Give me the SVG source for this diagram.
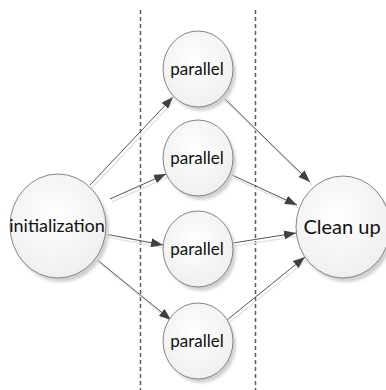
<svg xmlns="http://www.w3.org/2000/svg" width="386" height="390" viewBox="0 0 386 390">
  <defs>
    <radialGradient id="bubble" cx="45%" cy="40%" r="65%">
      <stop offset="0" stop-color="#ffffff"/>
      <stop offset="1" stop-color="#eeeeee"/>
    </radialGradient>
    <filter id="shade" x="-20%" y="-20%" width="150%" height="150%">
      <feGaussianBlur stdDeviation="1.8"/>
    </filter>
    <marker id="head" viewBox="0 0 12 9" refX="12" refY="4.5" markerWidth="12" markerHeight="9" markerUnits="userSpaceOnUse" orient="auto">
      <path d="M0,0 L12,4.5 L0,9 Z" fill="#404040"/>
    </marker>
  </defs>
  <style>
    .sep { stroke: #5a5a5a; stroke-width: 1.5; stroke-dasharray: 4 3; fill: none; }
    .shadow { fill: #d0d0d0; filter: url(#shade); }
    .node { fill: url(#bubble); stroke: #858585; stroke-width: 1; }
    .label { font-family: "Lato", "Open Sans", "Liberation Sans", sans-serif; fill: #111; text-anchor: middle; }
    .edge { stroke: #555; stroke-width: 1; fill: none; marker-end: url(#head); }
    .edge-shadow { stroke: #e4e4e4; stroke-width: 1.5; fill: none; }
  </style>

  <rect width="386" height="390" fill="#ffffff"/>

  <!-- lane separators -->
  <g id="lanes">
    <line class="sep" x1="140.5" y1="10" x2="140.5" y2="390"/>
    <line class="sep" x1="255.5" y1="10" x2="255.5" y2="390"/>
  </g>

  <!-- connectors -->
  <g id="connectors">
    <g transform="translate(2,3)">
      <line class="edge-shadow" x1="90" y1="185" x2="173" y2="97"/>
      <line class="edge-shadow" x1="110" y1="199" x2="166" y2="174"/>
      <line class="edge-shadow" x1="105" y1="234" x2="163" y2="245"/>
      <line class="edge-shadow" x1="95" y1="258" x2="171" y2="320"/>
      <line class="edge-shadow" x1="223" y1="97" x2="310" y2="182"/>
      <line class="edge-shadow" x1="232" y1="175" x2="297" y2="205"/>
      <line class="edge-shadow" x1="233" y1="243" x2="296" y2="233"/>
      <line class="edge-shadow" x1="227" y1="320" x2="305" y2="257"/>
    </g>
    <line class="edge" x1="90" y1="185" x2="173" y2="97"/>
    <line class="edge" x1="110" y1="199" x2="166" y2="174"/>
    <line class="edge" x1="105" y1="234" x2="163" y2="245"/>
    <line class="edge" x1="95" y1="258" x2="171" y2="320"/>
    <line class="edge" x1="223" y1="97" x2="310" y2="182"/>
    <line class="edge" x1="232" y1="175" x2="297" y2="205"/>
    <line class="edge" x1="233" y1="243" x2="296" y2="233"/>
    <line class="edge" x1="227" y1="320" x2="305" y2="257"/>
  </g>

  <g id="init">
    <ellipse class="shadow" cx="61" cy="230" rx="48" ry="52"/>
    <ellipse class="node" cx="58" cy="226" rx="48" ry="52"/>
    <text class="label" x="57" y="232" font-size="18">initialization</text>
  </g>

  <g id="parallel1">
    <ellipse class="shadow" cx="201" cy="73" rx="35" ry="38"/>
    <ellipse class="node" cx="198" cy="69" rx="35" ry="38"/>
    <text class="label" x="197" y="75" font-size="17">parallel</text>
  </g>

  <g id="parallel2">
    <ellipse class="shadow" cx="201" cy="162" rx="35" ry="38"/>
    <ellipse class="node" cx="198" cy="158" rx="35" ry="38"/>
    <text class="label" x="197" y="164" font-size="17">parallel</text>
  </g>

  <g id="parallel3">
    <ellipse class="shadow" cx="201" cy="253" rx="35" ry="38"/>
    <ellipse class="node" cx="198" cy="249" rx="35" ry="38"/>
    <text class="label" x="197" y="255" font-size="17">parallel</text>
  </g>

  <g id="parallel4">
    <ellipse class="shadow" cx="201" cy="345" rx="35" ry="38"/>
    <ellipse class="node" cx="198" cy="341" rx="35" ry="38"/>
    <text class="label" x="197" y="347" font-size="17">parallel</text>
  </g>

  <g id="cleanup">
    <ellipse class="shadow" cx="346" cy="231" rx="47" ry="51"/>
    <ellipse class="node" cx="343" cy="227" rx="47" ry="51"/>
    <text class="label" x="342" y="234" font-size="20">Clean up</text>
  </g>
</svg>
